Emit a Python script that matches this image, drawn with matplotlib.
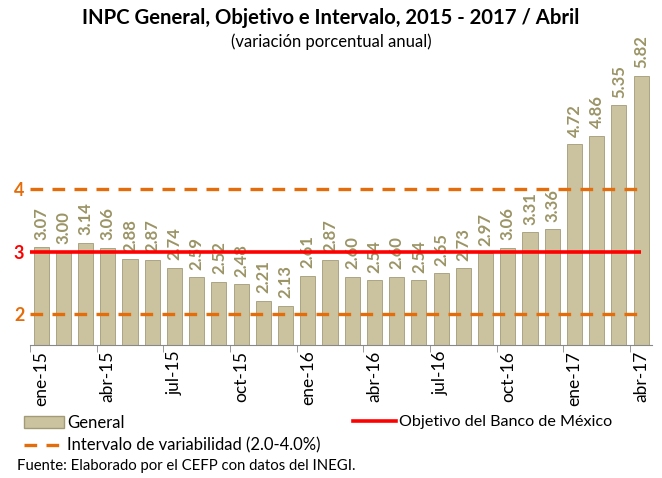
import matplotlib.pyplot as plt
from matplotlib.patches import Patch
from matplotlib.lines import Line2D

plt.rcParams['font.family'] = ['Lato', 'DejaVu Sans']

# INPC general, variacion porcentual anual
months = ['ene-15', 'feb-15', 'mar-15', 'abr-15', 'may-15', 'jun-15', 'jul-15', 'ago-15',
          'sep-15', 'oct-15', 'nov-15', 'dic-15', 'ene-16', 'feb-16', 'mar-16', 'abr-16',
          'may-16', 'jun-16', 'jul-16', 'ago-16', 'sep-16', 'oct-16', 'nov-16', 'dic-16',
          'ene-17', 'feb-17', 'mar-17', 'abr-17']
general = [3.07, 3.00, 3.14, 3.06, 2.88, 2.87, 2.74, 2.59, 2.52, 2.48, 2.21, 2.13,
           2.61, 2.87, 2.60, 2.54, 2.60, 2.54, 2.65, 2.73, 2.97, 3.06, 3.31, 3.36,
           4.72, 4.86, 5.35, 5.82]
objetivo = 3.0
intervalo = [2.0, 4.0]

bar_col = '#cbc39f'
edge_col = '#a39b77'
lab_col = '#9b9466'
red = '#ff0000'
orange = '#e46c0a'
dash = (0, (3.8, 2.8))

fig = plt.figure(figsize=(6.62, 4.78), dpi=100)
ax = fig.add_axes([0.0453, 0.278, 0.94, 0.613])

x = list(range(len(months)))
ax.bar(x, general, width=0.68, color=bar_col, edgecolor=edge_col, linewidth=0.6, zorder=2)

for xi, v in zip(x, general):
    ax.text(xi, v + 0.12, f'{v:.2f}', rotation=90, ha='center', va='bottom',
            color=lab_col, fontsize=12, fontweight='bold', zorder=3)

ax.hlines(objetivo, -0.5, len(months) - 1, color=red, lw=2.6, zorder=4)
ax.hlines(intervalo, -0.5, len(months) - 1, color=orange, lw=2.4, linestyles=dash, zorder=4)

ax.set_xlim(-0.5, len(months) - 0.5)
ax.set_ylim(1.5, 6.2)
ax.set_yticks([2, 3, 4])
ax.set_yticklabels(['2', '3', '4'], fontsize=13, fontweight='bold')
for t, c in zip(ax.get_yticklabels(), [orange, red, orange]):
    t.set_color(c)
ax.tick_params(axis='y', length=0, pad=4)

ax.set_xticks(x[::3])
ax.set_xticklabels(months[::3], rotation=90, fontsize=12.5)
ax.set_xticks([i - 0.5 for i in range(0, len(months) + 1, 3)], minor=True)
ax.tick_params(axis='x', which='major', length=0, pad=4)
ax.tick_params(axis='x', which='minor', length=5, color='#888888')

for s in ['top', 'right', 'left']:
    ax.spines[s].set_visible(False)
ax.spines['bottom'].set_color('#888888')

fig.text(0.5, 0.962, 'INPC General, Objetivo e Intervalo, 2015 - 2017 / Abril',
         ha='center', va='center', fontsize=14.6, fontweight='bold')
fig.text(0.5, 0.912, '(variación porcentual anual)', ha='center', va='center', fontsize=12)

h_gen = Patch(facecolor=bar_col, edgecolor=edge_col, label='General')
h_int = Line2D([], [], color=orange, lw=2.4, ls=dash,
               label='Intervalo de variabilidad (2.0-4.0%)')
h_obj = Line2D([], [], color=red, lw=2.6, label='Objetivo del Banco de México')
fig.legend(handles=[h_gen, h_int], loc='upper left', bbox_to_anchor=(0.036, 0.132),
           frameon=False, fontsize=12, handlelength=2.4, handletextpad=0.2,
           labelspacing=0.38, borderpad=0, borderaxespad=0)
fig.legend(handles=[h_obj], loc='upper left', bbox_to_anchor=(0.533, 0.132),
           frameon=False, fontsize=11.6, handlelength=2.7, handletextpad=0.15,
           borderpad=0, borderaxespad=0)

fig.text(0.026, 0.025, 'Fuente: Elaborado por el CEFP con datos del INEGI.',
         ha='left', va='center', fontsize=10.7)

fig.savefig('out.png', dpi=100)
